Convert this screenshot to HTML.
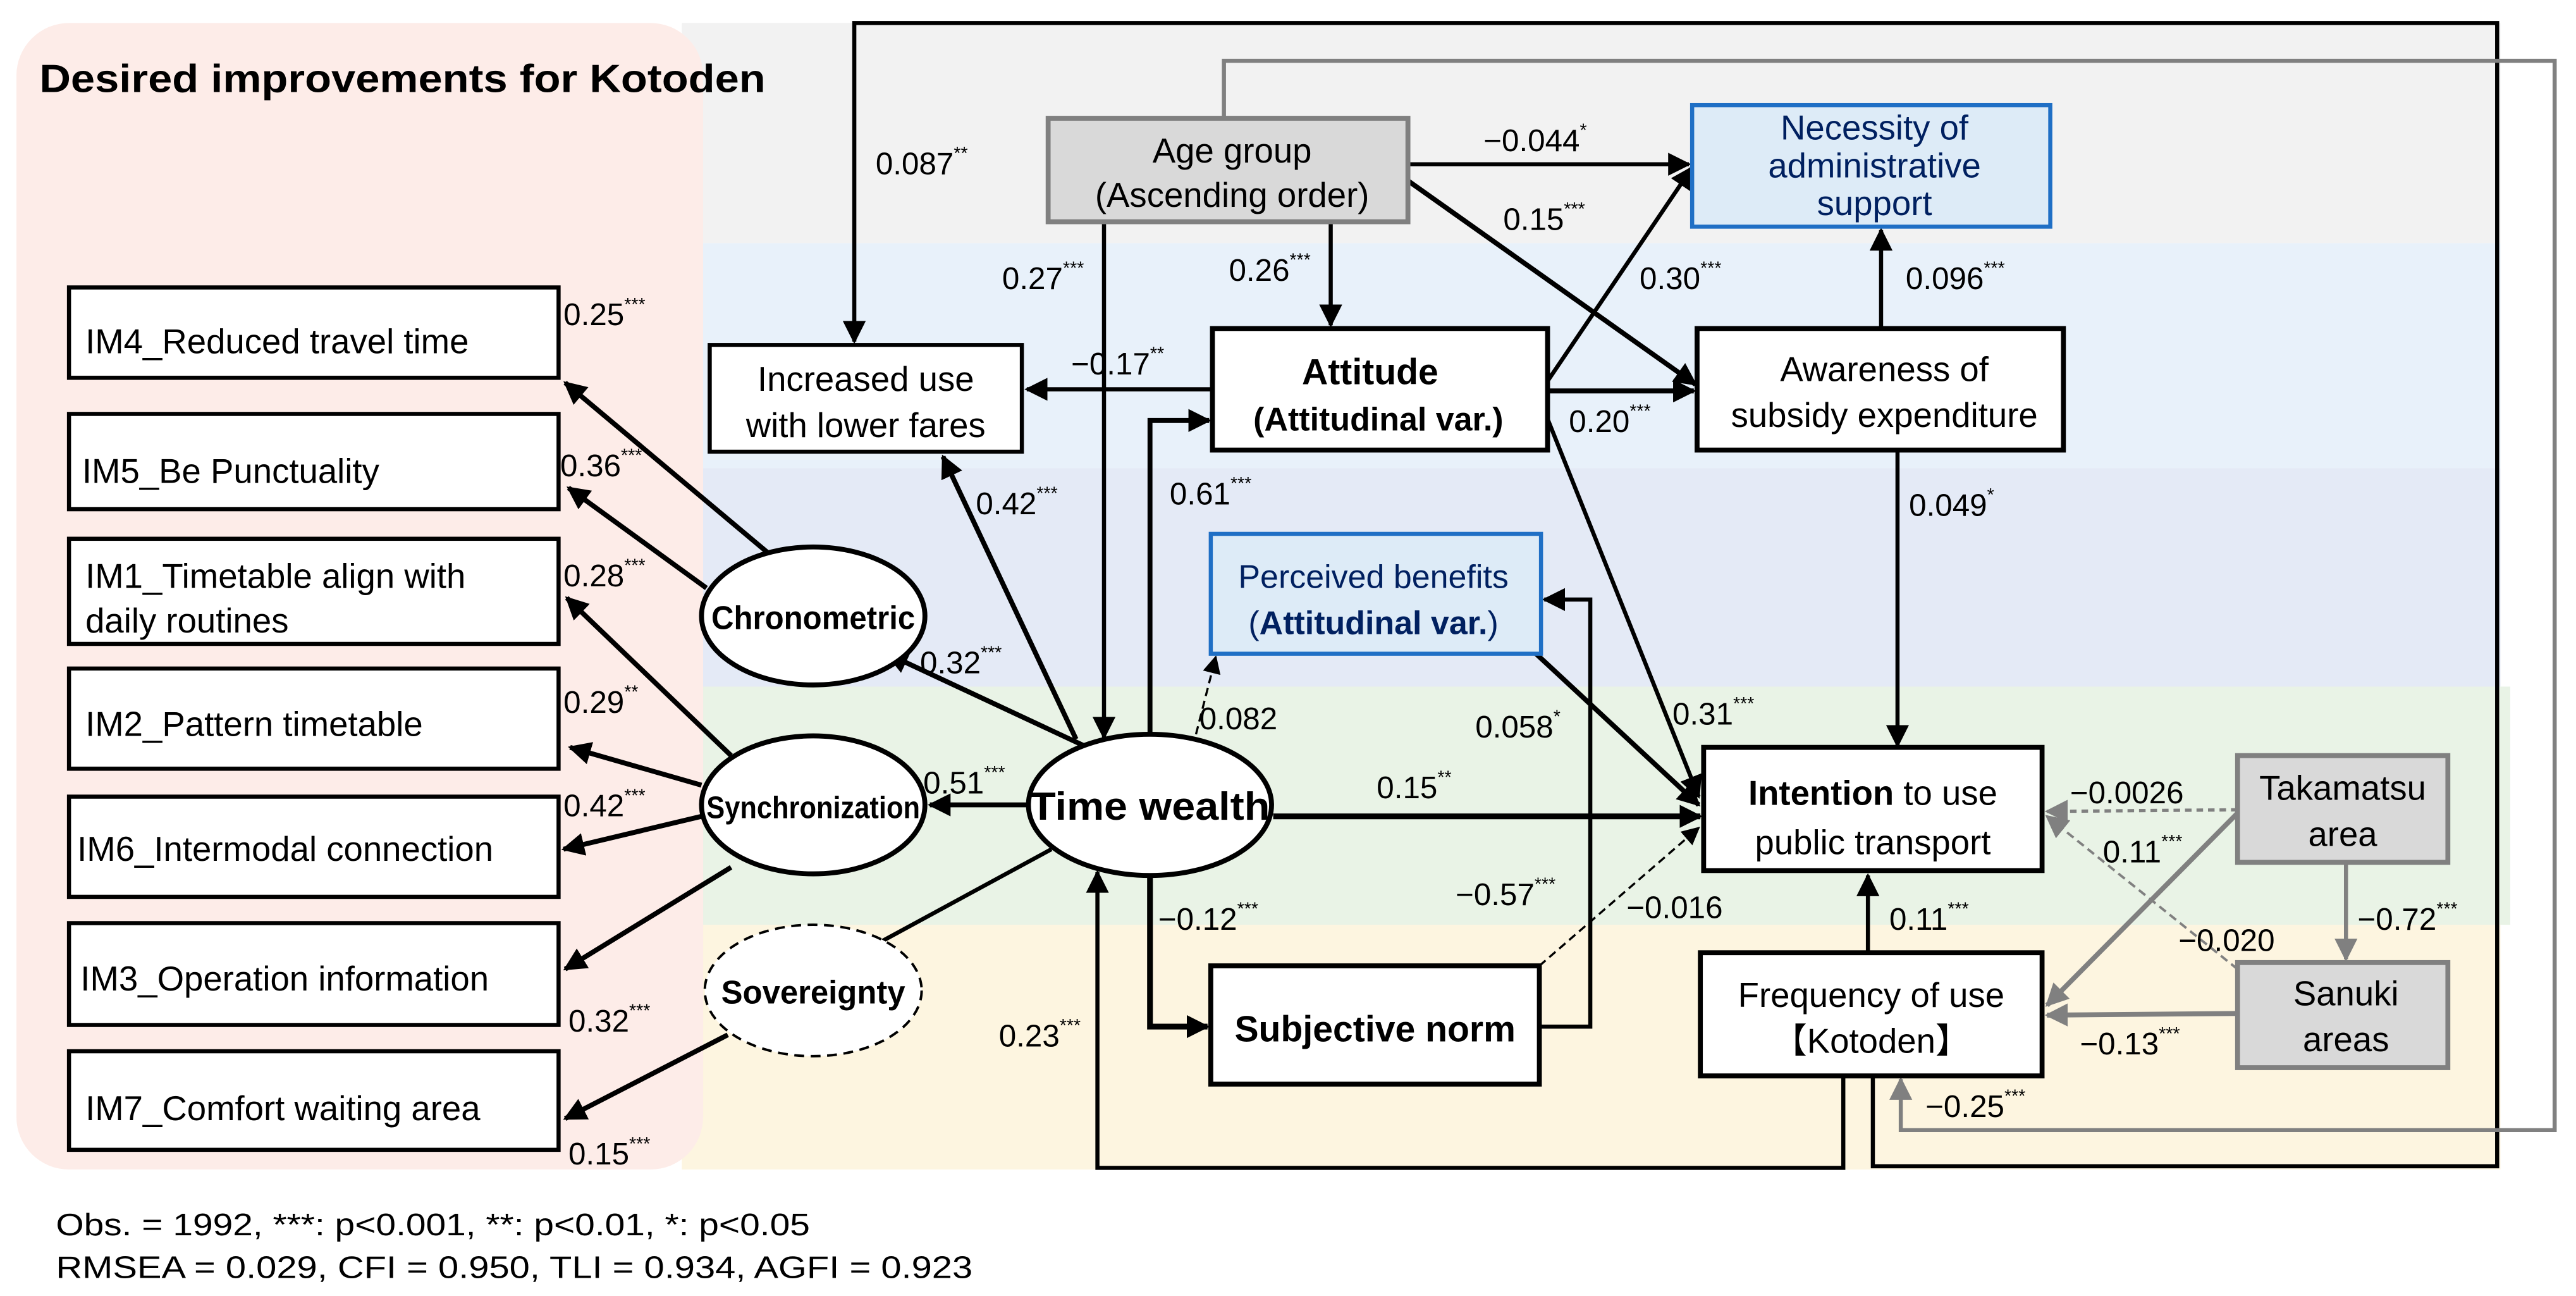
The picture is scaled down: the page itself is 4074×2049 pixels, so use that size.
<!DOCTYPE html>
<html><head><meta charset="utf-8"><style>
html,body{margin:0;padding:0;background:#fff;}
svg{display:block}
text{font-family:"Liberation Sans",sans-serif;fill:#000}
.l{font-size:19px}
.b{font-size:21px}
.s{font-size:11px}
</style></head><body>
<svg width="4074" height="2049" viewBox="0 0 1568 789" preserveAspectRatio="none" xmlns="http://www.w3.org/2000/svg">
<defs>
<marker id="a" markerUnits="userSpaceOnUse" markerWidth="14" markerHeight="14" viewBox="0 0 10 10" refX="9" refY="5" orient="auto"><path d="M0,0 L10,5 L0,10 z" fill="#000"/></marker>
<marker id="g" markerUnits="userSpaceOnUse" markerWidth="14" markerHeight="14" viewBox="0 0 10 10" refX="9" refY="5" orient="auto"><path d="M0,0 L10,5 L0,10 z" fill="#808080"/></marker>
<marker id="d" markerUnits="userSpaceOnUse" markerWidth="11" markerHeight="11" viewBox="0 0 10 10" refX="9" refY="5" orient="auto"><path d="M0,0 L10,5 L0,10 z" fill="#000"/></marker>
</defs>
<rect x="415" y="14" width="1107" height="134" fill="#f2f2f2"/>
<rect x="415" y="148" width="1107" height="137" fill="#e8f1fa"/>
<rect x="415" y="285" width="1107" height="133" fill="#e4eaf6"/>
<rect x="415" y="418" width="1113" height="145" fill="#e9f3e6"/>
<rect x="415" y="563" width="1107" height="149" fill="#fdf5e0"/>
<rect x="10" y="14" width="418" height="698" rx="32" fill="#fdece8"/>
<text x="24" y="56" style="font-size:24px;font-weight:bold" textLength="442" lengthAdjust="spacingAndGlyphs">Desired improvements for Kotoden</text>

<polyline points="1140,655 1140,710 1520,710 1520,14 520,14 520,208" fill="none" stroke="#000" stroke-width="2.5" marker-end="url(#a)"/>
<polyline points="1122,655 1122,711 668,711 668,531" fill="none" stroke="#000" stroke-width="2.5" marker-end="url(#a)"/>
<polyline points="745,72 745,37 1555,37 1555,688 1157,688 1157,657" fill="none" stroke="#808080" stroke-width="2.5" marker-end="url(#g)"/>

<g fill="#fff" stroke="#000" stroke-width="2.5">
<rect x="42" y="175" width="298" height="55"/>
<rect x="42" y="252" width="298" height="58"/>
<rect x="42" y="328" width="298" height="64"/>
<rect x="42" y="407" width="298" height="61"/>
<rect x="42" y="485" width="298" height="61"/>
<rect x="42" y="562" width="298" height="62"/>
<rect x="42" y="640" width="298" height="60"/>
</g>
<text class="b" x="52" y="215">IM4_Reduced travel time</text>
<text class="b" x="50" y="294">IM5_Be Punctuality</text>
<text class="b" x="52" y="358">IM1_Timetable align with</text>
<text class="b" x="52" y="385">daily routines</text>
<text class="b" x="52" y="448">IM2_Pattern timetable</text>
<text class="b" x="47" y="524">IM6_Intermodal connection</text>
<text class="b" x="49" y="603">IM3_Operation information</text>
<text class="b" x="52" y="682">IM7_Comfort waiting area</text>

<g stroke="#000" stroke-width="3" fill="none" marker-end="url(#a)">
<line x1="468" y1="337" x2="344" y2="233"/>
<line x1="430" y1="358" x2="346" y2="297"/>
<line x1="445" y1="460" x2="345" y2="364"/>
<line x1="427" y1="478" x2="347" y2="455"/>
<line x1="427" y1="497" x2="343" y2="517"/>
<line x1="445" y1="528" x2="344" y2="590"/>
<line x1="443" y1="630" x2="344" y2="681"/>
<line x1="662" y1="455" x2="540" y2="398"/>
<line x1="627" y1="490" x2="566" y2="490"/>
<line x1="655" y1="450" x2="574" y2="278"/>
</g>
<line x1="535" y1="574" x2="640" y2="517" stroke="#000" stroke-width="2.5"/>

<g fill="#fff" stroke="#000" stroke-width="3">
<ellipse cx="495" cy="375" rx="68" ry="42"/>
<ellipse cx="495" cy="490" rx="68" ry="42"/>
<ellipse cx="700" cy="490" rx="74" ry="43"/>
</g>
<ellipse cx="495" cy="603" rx="66" ry="40" fill="#fff" stroke="#000" stroke-width="1.5" stroke-dasharray="6,4"/>
<text x="495" y="383" text-anchor="middle" style="font-size:20px;font-weight:bold" textLength="124" lengthAdjust="spacingAndGlyphs">Chronometric</text>
<text x="495" y="498" text-anchor="middle" style="font-size:19px;font-weight:bold" textLength="130" lengthAdjust="spacingAndGlyphs">Synchronization</text>
<text x="495" y="611" text-anchor="middle" style="font-size:20px;font-weight:bold" textLength="112" lengthAdjust="spacingAndGlyphs">Sovereignty</text>
<text x="700" y="499" text-anchor="middle" style="font-size:24px;font-weight:bold" textLength="146" lengthAdjust="spacingAndGlyphs">Time wealth</text>

<g stroke="#000" stroke-width="2.5" fill="none" marker-end="url(#a)">
<line x1="672" y1="135" x2="672" y2="449"/>
<line x1="810" y1="135" x2="810" y2="198"/>
<line x1="738" y1="237" x2="625" y2="237"/>
<polyline points="700,447 700,256 736,256" stroke-width="3"/>
<line x1="775" y1="497" x2="1035" y2="497" stroke-width="3.5"/>
<polyline points="700,533 700,625 735,625" stroke-width="3.5"/>
<polyline points="937,625 968,625 968,365 940,365"/>
<line x1="935" y1="398" x2="1034" y2="490" stroke-width="3"/>
<line x1="942" y1="255" x2="1034" y2="485"/>
<line x1="942" y1="238" x2="1031" y2="238" stroke-width="3"/>
<line x1="942" y1="232" x2="1030" y2="102"/>
<line x1="857" y1="100" x2="1028" y2="100"/>
<line x1="857" y1="110" x2="1032" y2="234" stroke-width="3"/>
<line x1="1145" y1="200" x2="1145" y2="140"/>
<line x1="1155" y1="274" x2="1155" y2="454"/>
<line x1="1137" y1="580" x2="1137" y2="533"/>
</g>
<g stroke="#000" stroke-width="1.3" fill="none" stroke-dasharray="5,3" marker-end="url(#d)">
<line x1="728" y1="447" x2="740" y2="400"/>
<line x1="937" y1="588" x2="1034" y2="504"/>
</g>
<g stroke="#808080" fill="none">
<line x1="1362" y1="493" x2="1246" y2="494" stroke-width="2" stroke-dasharray="4,3" marker-end="url(#g)"/>
<line x1="1362" y1="590" x2="1246" y2="497" stroke-width="1.5" stroke-dasharray="5,3" marker-end="url(#g)"/>
<line x1="1362" y1="495" x2="1246" y2="612" stroke-width="3" marker-end="url(#g)"/>
<line x1="1428" y1="525" x2="1428" y2="584" stroke-width="2.5" marker-end="url(#g)"/>
<line x1="1362" y1="617" x2="1246" y2="618" stroke-width="3" marker-end="url(#g)"/>
</g>

<rect x="432" y="210" width="190" height="65" fill="#fff" stroke="#000" stroke-width="2.5"/>
<text class="b" x="527" y="238" text-anchor="middle">Increased use</text>
<text class="b" x="527" y="266" text-anchor="middle">with lower fares</text>

<rect x="638" y="72" width="219" height="63" fill="#d9d9d9" stroke="#808080" stroke-width="3"/>
<text class="b" x="750" y="99" text-anchor="middle">Age group</text>
<text class="b" x="750" y="126" text-anchor="middle">(Ascending order)</text>

<rect x="738" y="200" width="204" height="74" fill="#fff" stroke="#000" stroke-width="3"/>
<text x="834" y="234" text-anchor="middle" style="font-size:22px;font-weight:bold">Attitude</text>
<text x="839" y="262" text-anchor="middle" style="font-size:20px;font-weight:bold">(Attitudinal var.)</text>

<rect x="1030" y="64" width="218" height="74" fill="#ddebf7" stroke="#1f6fc5" stroke-width="2.5"/>
<text class="b" x="1141" y="85" text-anchor="middle" style="fill:#002060">Necessity of</text>
<text class="b" x="1141" y="108" text-anchor="middle" style="fill:#002060">administrative</text>
<text class="b" x="1141" y="131" text-anchor="middle" style="fill:#002060">support</text>

<rect x="1033" y="200" width="223" height="74" fill="#fff" stroke="#000" stroke-width="3"/>
<text class="b" x="1147" y="232" text-anchor="middle">Awareness of</text>
<text class="b" x="1147" y="260" text-anchor="middle">subsidy expenditure</text>

<rect x="737" y="325" width="201" height="73" fill="#ddebf7" stroke="#1f6fc5" stroke-width="2.5"/>
<text x="836" y="358" text-anchor="middle" style="font-size:20px;fill:#002060">Perceived benefits</text>
<text x="836" y="386" text-anchor="middle" style="font-size:20px;fill:#002060">(<tspan style="font-weight:bold;fill:#002060">Attitudinal var.</tspan>)</text>

<rect x="737" y="588" width="200" height="72" fill="#fff" stroke="#000" stroke-width="3"/>
<text x="837" y="634" text-anchor="middle" style="font-size:22px;font-weight:bold">Subjective norm</text>

<rect x="1037" y="455" width="206" height="75" fill="#fff" stroke="#000" stroke-width="3"/>
<text x="1140" y="490" text-anchor="middle" style="font-size:21px"><tspan style="font-weight:bold">Intention</tspan> to use</text>
<text x="1140" y="520" text-anchor="middle" style="font-size:21px">public transport</text>

<rect x="1035" y="580" width="208" height="75" fill="#fff" stroke="#000" stroke-width="3"/>
<text class="b" x="1139" y="613" text-anchor="middle">Frequency of use</text>
<text class="b" x="1139" y="641" text-anchor="middle">【Kotoden】</text>

<rect x="1362" y="460" width="128" height="65" fill="#d9d9d9" stroke="#808080" stroke-width="3"/>
<text class="b" x="1426" y="487" text-anchor="middle">Takamatsu</text>
<text class="b" x="1426" y="515" text-anchor="middle">area</text>
<rect x="1362" y="586" width="128" height="64" fill="#d9d9d9" stroke="#808080" stroke-width="3"/>
<text class="b" x="1428" y="612" text-anchor="middle">Sanuki</text>
<text class="b" x="1428" y="640" text-anchor="middle">areas</text>

<text class="l" x="343" y="198">0.25<tspan class="s" dy="-9">***</tspan></text>
<text class="l" x="341" y="290">0.36<tspan class="s" dy="-9">***</tspan></text>
<text class="l" x="343" y="357">0.28<tspan class="s" dy="-9">***</tspan></text>
<text class="l" x="343" y="434">0.29<tspan class="s" dy="-9">**</tspan></text>
<text class="l" x="343" y="497">0.42<tspan class="s" dy="-9">***</tspan></text>
<text class="l" x="346" y="628">0.32<tspan class="s" dy="-9">***</tspan></text>
<text class="l" x="346" y="709">0.15<tspan class="s" dy="-9">***</tspan></text>
<text class="l" x="560" y="410">0.32<tspan class="s" dy="-9">***</tspan></text>
<text class="l" x="594" y="313">0.42<tspan class="s" dy="-9">***</tspan></text>
<text class="l" x="562" y="483">0.51<tspan class="s" dy="-9">***</tspan></text>
<text class="l" x="533" y="106">0.087<tspan class="s" dy="-9">**</tspan></text>
<text class="l" x="610" y="176">0.27<tspan class="s" dy="-9">***</tspan></text>
<text class="l" x="748" y="171">0.26<tspan class="s" dy="-9">***</tspan></text>
<text class="l" x="652" y="228">−0.17<tspan class="s" dy="-9">**</tspan></text>
<text class="l" x="712" y="307">0.61<tspan class="s" dy="-9">***</tspan></text>
<text class="l" x="730" y="444">0.082</text>
<text class="l" x="838" y="486">0.15<tspan class="s" dy="-9">**</tspan></text>
<text class="l" x="705" y="566">−0.12<tspan class="s" dy="-9">***</tspan></text>
<text class="l" x="608" y="637">0.23<tspan class="s" dy="-9">***</tspan></text>
<text class="l" x="886" y="551">−0.57<tspan class="s" dy="-9">***</tspan></text>
<text class="l" x="898" y="449">0.058<tspan class="s" dy="-9">*</tspan></text>
<text class="l" x="990" y="559">−0.016</text>
<text class="l" x="1018" y="441">0.31<tspan class="s" dy="-9">***</tspan></text>
<text class="l" x="955" y="263">0.20<tspan class="s" dy="-9">***</tspan></text>
<text class="l" x="998" y="176">0.30<tspan class="s" dy="-9">***</tspan></text>
<text class="l" x="903" y="92">−0.044<tspan class="s" dy="-9">*</tspan></text>
<text class="l" x="915" y="140">0.15<tspan class="s" dy="-9">***</tspan></text>
<text class="l" x="1160" y="176">0.096<tspan class="s" dy="-9">***</tspan></text>
<text class="l" x="1162" y="314">0.049<tspan class="s" dy="-9">*</tspan></text>
<text class="l" x="1150" y="566">0.11<tspan class="s" dy="-9">***</tspan></text>
<text class="l" x="1260" y="489">−0.0026</text>
<text class="l" x="1280" y="525">0.11<tspan class="s" dy="-9">***</tspan></text>
<text class="l" x="1326" y="579">−0.020</text>
<text class="l" x="1435" y="566">−0.72<tspan class="s" dy="-9">***</tspan></text>
<text class="l" x="1266" y="642">−0.13<tspan class="s" dy="-9">***</tspan></text>
<text class="l" x="1172" y="680">−0.25<tspan class="s" dy="-9">***</tspan></text>
<text x="34" y="752" style="font-size:19px" textLength="459" lengthAdjust="spacingAndGlyphs">Obs. = 1992, ***: p&lt;0.001, **: p&lt;0.01, *: p&lt;0.05</text>
<text x="34" y="778" style="font-size:19px" textLength="558" lengthAdjust="spacingAndGlyphs">RMSEA = 0.029, CFI  =  0.950, TLI   =  0.934, AGFI = 0.923</text>
</svg>
</body></html>
